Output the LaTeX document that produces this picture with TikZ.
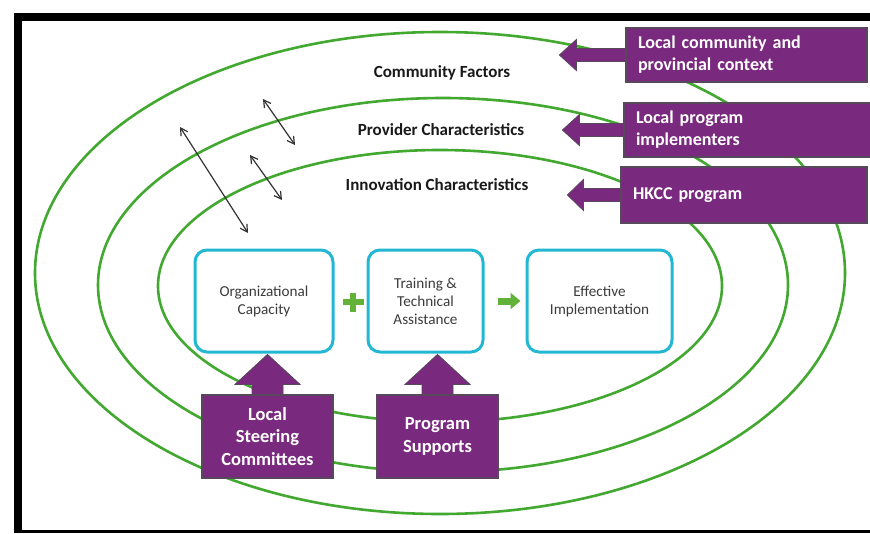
\documentclass[tikz,border=0pt]{standalone}
\usepackage{fontspec}
\setmainfont{Carlito}
\usetikzlibrary{arrows.meta,calc}
\definecolor{ringgreen}{RGB}{66,168,48}
\definecolor{boxcyan}{RGB}{34,184,212}
\definecolor{hkpurple}{RGB}{122,42,126}
\definecolor{hkedge}{RGB}{88,72,92}
\definecolor{signgreen}{RGB}{98,178,58}
\definecolor{labelgray}{RGB}{60,60,60}
\definecolor{ringtext}{RGB}{25,25,25}

\begin{document}
\begin{tikzpicture}[x=1pt,y=-1pt,
  ring/.style={draw=ringgreen,line width=2.6pt},
  ringlabel/.style={text=ringtext,font=\bfseries\fontsize{17}{19}\selectfont,inner sep=1pt},
  stagebox/.style={draw=boxcyan,line width=3pt,rounded corners=12pt,fill=white,
    minimum height=102pt,align=center,text=labelgray,
    font=\fontsize{15.2}{18}\selectfont,inner sep=0pt},
  sidebox/.style={fill=hkpurple,draw=hkedge,line width=1.2pt,text=white,
    font=\bfseries\fontsize{18}{22}\selectfont,align=left,
    minimum height=54pt,inner xsep=12pt},
  basebox/.style={fill=hkpurple,draw=hkedge,line width=1.2pt,text=white,
    font=\bfseries\fontsize{18.5}{22.5}\selectfont,align=center,
    minimum height=83pt,inner sep=0pt},
  purplearrow/.style={fill=hkpurple,draw=hkedge,line width=0.8pt,line join=miter},
  linkarrow/.style={draw=black!80,line width=1.2pt,
    {Straight Barb[length=7pt,width=8pt]}-{Straight Barb[length=7pt,width=8pt]}},
  signarrow/.style={draw=signgreen,line width=7pt,-{Triangle[length=10pt,width=16pt]}},
]
\useasboundingbox (0,0) rectangle (870,533);
\fill[white] (0,0) rectangle (870,533);

% black frame
\fill[black] (14,13) rectangle (870,21);
\fill[black] (14,13) rectangle (22,533);
\fill[black] (14,530) rectangle (870,533);

% nested context rings
\draw[ring] (440,273) ellipse [x radius=405, y radius=241];
\draw[ring] (443,285) ellipse [x radius=345, y radius=187];
\draw[ring] (440,286) ellipse [x radius=282, y radius=136];

% ring labels
\node[ringlabel] (lcom) at (442,73) {Community Factors};
\node[ringlabel] (lprov) at (441,130) {Provider Characteristics};
\node[ringlabel] (linno) at (437,185) {Innovation Characteristics};

% interaction arrows across the rings
\coordinate (a1s) at (180,127);
\coordinate (a1e) at (248,233);
\coordinate (a2s) at (263,99);
\coordinate (a2e) at (295,145);
\coordinate (a3s) at (250,155);
\coordinate (a3e) at (282,200);
\draw[linkarrow] (a1s) -- (a1e);
\draw[linkarrow] (a2s) -- (a2e);
\draw[linkarrow] (a3s) -- (a3e);

% core stages
\node[stagebox,minimum width=138pt] (org) at (264,301) {Organizational\\Capacity};
\node[stagebox,minimum width=115pt] (tta) at (425.5,301) {Training \&\\Technical\\Assistance};
\node[stagebox,minimum width=145pt] (eff) at (599.5,301) {Effective\\Implementation};

% plus sign and result arrow
\node[inner sep=0pt,minimum size=20pt] (plus) at (353,302) {};
\draw[signgreen,line width=5.5pt] ($(plus.center)+(-10.5pt,0)$) -- ($(plus.center)+(10.5pt,0)$);
\draw[signgreen,line width=5.5pt] ($(plus.center)+(0,9.5pt)$) -- ($(plus.center)+(0,-9.5pt)$);
\draw[signarrow,shorten <=13pt,shorten >=5pt] (tta.east) -- (eff.west);

% context sources on the right
\node[sidebox,text width=217pt] (src1) at (746.5,55) {Local community and\\provincial context};
\node[sidebox,text width=226pt,minimum height=54pt] (src2) at (749,130) {Local program\\implementers};
\node[sidebox,text width=222pt,minimum height=56pt] (src3) at (744,195) {HKCC program};

\foreach \b/\hl/\sl in {src1/49/17, src2/44/17, src3/37/16}{
  \fill[purplearrow] ($(\b.west)+(0,6.5pt)$) -- ++(-\hl pt,0) -- ++(0,9pt)
    -- ++(-\sl pt,-15.5pt) -- ++(\sl pt,-15.5pt) -- ++(0,9pt) -- ++(\hl pt,0) -- cycle;
}

% supports at the bottom
\node[basebox,minimum width=131pt] (lsc) at (267.5,436.5) {Local\\Steering\\Committees};
\node[basebox,minimum width=121pt] (ps) at (437.5,436.5) {Program\\Supports};

\foreach \b in {lsc, ps}{
  \fill[purplearrow] ($(\b.north)+(-15.5pt,0)$) -- ++(0,10pt) -- ++(-17pt,0)
    -- ++(32.5pt,30pt) -- ++(32.5pt,-30pt) -- ++(-17pt,0) -- ++(0,-10pt) -- cycle;
}
\end{tikzpicture}
\end{document}
